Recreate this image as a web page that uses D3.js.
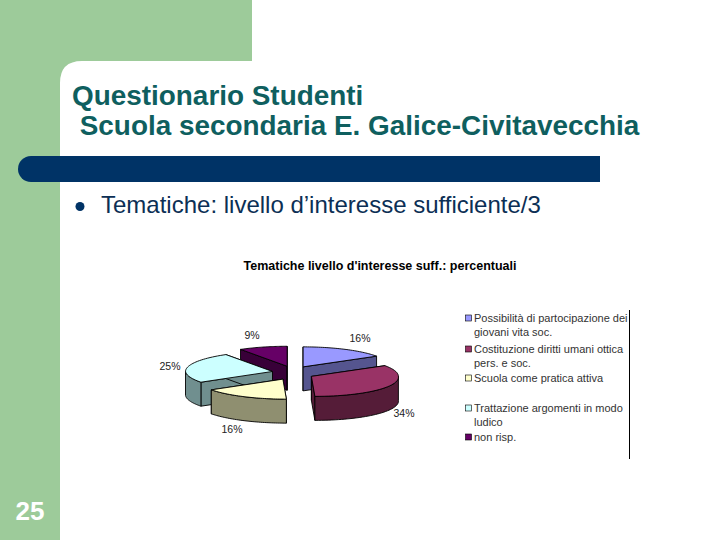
<!DOCTYPE html>
<html>
<head>
<meta charset="utf-8">
<script src="https://cdn.jsdelivr.net/npm/d3@7"></script>
<style>
  html, body { margin: 0; padding: 0; background: #fff; }
  svg { display: block; font-family: "Liberation Sans", Arial, sans-serif; }
</style>
</head>
<body>
<svg id="slide" width="720" height="540"></svg>
<script>
// ========================= DATA ===================================
const titleLines = ["Questionario Studenti", " Scuola secondaria E. Galice-Civitavecchia"];
const bulletText = "Tematiche: livello d’interesse sufficiente/3";
const pageNumber = "25";
const chartTitle = "Tematiche livello d'interesse suff.: percentuali";
const percentages = [16, 34, 16, 25, 9];
const pctLabels = ["16%", "34%", "16%", "25%", "9%"];
const legendLines = [
  ["Possibilità di partocipazione dei", "giovani vita soc."],
  ["Costituzione diritti umani ottica", "pers. e soc."],
  ["Scuola come pratica attiva"],
  ["Trattazione argomenti in modo", "ludico"],
  ["non risp."]
];
const topColors = ["#9999ff", "#993366", "#ffffcc", "#ccffff", "#660066"];
const sideColors = ["#55558f", "#551c38", "#8f8f70", "#708f8f", "#380038"];

// ========================= SLIDE BACKGROUND ========================
const svg = d3.select("#slide");
const green = "#9dcb9a", navy = "#003366", teal = "#0f5f5f";

svg.append("rect").attr("width", 252).attr("height", 61).attr("fill", green);
svg.append("rect").attr("y", 61).attr("width", 60).attr("height", 479).attr("fill", green);
// rounded inner corner
svg.append("path").attr("fill", green).attr("d", "M60,61H82Q60,61 60,83Z");
// bar
svg.append("path").attr("fill", navy)
  .attr("d", "M31,156H600V182H31A13,13 0 0 1 31,156Z");

svg.selectAll(".title").data(titleLines).join("text")
  .attr("class", "title")
  .attr("x", 72)
  .attr("y", (d, i) => 105 + i * 30)
  .attr("xml:space", "preserve")
  .style("white-space", "pre")
  .attr("font-size", 27.9)
  .attr("font-weight", "bold")
  .attr("fill", teal)
  .text(d => d);

svg.append("circle").attr("cx", 80).attr("cy", 206.5).attr("r", 4.5).attr("fill", navy);
svg.append("text").attr("x", 101).attr("y", 213).attr("font-size", 24).attr("fill", "#0c2f55").text(bulletText);
svg.append("text").attr("x", 15.5).attr("y", 520).attr("font-size", 26).attr("font-weight", "bold").attr("fill", "#fff").text(pageNumber);

// ========================= CHART ===================================
svg.append("text").attr("x", 380).attr("y", 270).attr("text-anchor", "middle")
  .attr("font-size", 12.5).attr("font-weight", "bold").attr("fill", "#000").text(chartTitle);

const cx = 293, cy = 373, rx = 87, ry = 20, depth = 24, explodeX = 21, explodeY = 7;
const pie = d3.pie().sort(null).value(d => d);
const slices = pie(percentages);
const line = d3.line();

// flat angle -> screen offset (front half leans a little to the right)
function project(a) {
  const c = Math.cos(a);
  return [rx * Math.sin(a) + 3.5 * Math.max(0, -c), -ry * c];
}
function arcPoints(a0, a1) {
  return d3.range(0, 41).map(i => project(a0 + (a1 - a0) * i / 40));
}

// back to front
const drawOrder = [4, 0, 3, 1, 2];
const pieG = svg.append("g");

drawOrder.forEach(i => {
  const s = slices[i];
  const mid = (s.startAngle + s.endAngle) / 2;
  const g = pieG.append("g")
    .attr("transform", `translate(${cx + explodeX * Math.sin(mid)},${cy - explodeY * Math.cos(mid)})`);
  const add = pts => g.append("path").attr("d", line(pts) + "Z")
    .attr("stroke", "#000").attr("stroke-width", 0.9).attr("stroke-linejoin", "round");
  // cut faces
  [s.startAngle, s.endAngle].forEach(a => {
    const e = project(a);
    add([[0, 0], e, [e[0], e[1] + depth], [0, depth]]).attr("fill", sideColors[i]);
  });
  // outer wall, front half only
  const a0 = Math.max(s.startAngle, Math.PI / 2), a1 = Math.min(s.endAngle, 3 * Math.PI / 2);
  if (a1 > a0) {
    const upper = arcPoints(a0, a1);
    const lower = upper.map(p => [p[0], p[1] + depth]).reverse();
    add(upper.concat(lower)).attr("fill", sideColors[i]);
  }
  // top
  add([[0, 0]].concat(arcPoints(s.startAngle, s.endAngle))).attr("fill", topColors[i]);
});

// percent labels
const labelX = d3.scaleOrdinal().domain(d3.range(5)).range([360, 404, 232, 170, 252]);
const labelY = d3.scaleOrdinal().domain(d3.range(5)).range([342, 417, 433, 370, 339]);
svg.selectAll(".pct").data(pctLabels).join("text")
  .attr("class", "pct")
  .attr("x", (d, i) => labelX(i))
  .attr("y", (d, i) => labelY(i))
  .attr("text-anchor", "middle")
  .attr("font-size", 10.5)
  .attr("fill", "#222")
  .text(d => d);

// legend
let ly = 322;
const legendGaps = [17.5, 15.5, 30, 15.5, 0];
legendLines.forEach((lines, i) => {
  svg.append("rect").attr("x", 465.5).attr("y", ly - 7).attr("width", 6).attr("height", 6)
    .attr("fill", topColors[i]).attr("stroke", "#000").attr("stroke-width", 0.6);
  lines.forEach((t, j) => {
    svg.append("text").attr("x", 474).attr("y", ly + j * 13.5).attr("font-size", 11).attr("fill", "#333").text(t);
  });
  ly += (lines.length - 1) * 13.5 + legendGaps[i];
});
svg.append("line").attr("x1", 629.5).attr("x2", 629.5).attr("y1", 310).attr("y2", 459)
  .attr("stroke", "#000").attr("stroke-width", 1);
</script>
</body>
</html>
